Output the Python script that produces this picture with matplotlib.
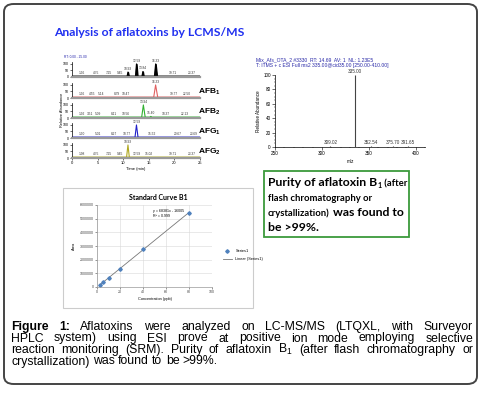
import numpy as np
import matplotlib
matplotlib.use("Agg")
import matplotlib.pyplot as plt
from matplotlib.patches import FancyBboxPatch, Rectangle

W, H = 484, 395

# ---- chromatogram traces (time min, relative abundance) ----
tic_t = [0, 10.75, 10.93, 11.1, 12.4, 12.59, 12.8, 13.65, 13.84, 14.0, 16.1, 16.33, 16.6, 25]
tic_i = [4, 4, 38, 4, 4, 100, 4, 4, 42, 4, 4, 100, 4, 4]
afb1_t = [0, 15.95, 16.33, 16.75, 25]
afb1_i = [4, 4, 100, 4, 4]
afb2_t = [0, 13.6, 13.94, 14.3, 15.2, 15.4, 15.6, 25]
afb2_i = [4, 4, 100, 4, 4, 12, 4, 4]
afg1_t = [0, 12.3, 12.59, 12.9, 25]
afg1_i = [4, 4, 100, 4, 4]
afg2_t = [0, 10.65, 10.93, 11.2, 25]
afg2_i = [4, 4, 100, 4, 4]

tic_rt = [1.96, 4.75, 7.25, 9.45, 10.93, 12.59, 13.84, 16.33, 19.71, 23.37]
afb1_rt = [1.96, 4.55, 5.14, 8.79, 10.47, 16.33, 19.77, 22.50]
afb2_rt = [1.92, 3.51, 5.09, 8.11, 10.56, 13.94, 15.40, 18.37, 22.13]
afg1_rt = [1.90, 5.01, 8.27, 10.77, 12.59, 15.52, 20.67, 23.69]
afg2_rt = [1.98, 4.75, 7.25, 9.45, 10.93, 12.59, 15.02, 19.71, 23.37]

trace_labels = ["", "AFB", "AFB", "AFG", "AFG"]
trace_subs = ["", "1", "2", "1", "2"]
time_ticks = [0, 5, 10, 15, 20, 25]

# ---- MS2 spectrum ----
mz = [309.02, 335.00, 352.54, 375.70, 391.65]
abund = [1.5, 100, 1.5, 1.2, 1.0]

# ---- standard curve ----
conc = [2.5, 5, 10, 20, 40, 80]
area = [150000, 330000, 640000, 1320000, 2780000, 5420000]
slope, intercept = 68381, -16005
r2 = 0.999

plt.rcParams['font.family'] = ['Liberation Sans', 'DejaVu Sans']
plt.rcParams['mathtext.fontset'] = 'custom'
plt.rcParams['mathtext.rm'] = 'Liberation Sans'
plt.rcParams['mathtext.bf'] = 'Liberation Sans:bold'
plt.rcParams['mathtext.default'] = 'regular'
fig = plt.figure(figsize=(W / 100, H / 100), dpi=100)
renderer = fig.canvas.get_renderer()


def box(x0, y0, x1, y1):
    return [x0 / W, 1 - y1 / H, (x1 - x0) / W, (y1 - y0) / H]


def ftext(x, y, s, **kw):
    return fig.text(x / W, 1 - y / H, s, **kw)


def text_width(s, **kw):
    t = ftext(0, 100, s, **kw)
    w = t.get_window_extent(renderer).width
    t.remove()
    return w


# outer rounded frame
frame = FancyBboxPatch((4 / W, 1 - 384 / H), 473 / W, 380 / H,
                       boxstyle="round,pad=0,rounding_size=0.02",
                       transform=fig.transFigure, fill=False,
                       edgecolor="#444444", linewidth=1.4)
fig.patches.append(frame)

ftext(54, 33, "Analysis of aflatoxins by LCMS/MS", fontsize=8.7, fontweight="bold",
      color="#2030f0", family="Lato", va="center")

# ---- chromatogram stack ----
traces = [(tic_t, tic_i, tic_rt, "black"),
          (afb1_t, afb1_i, afb1_rt, "#e06060"),
          (afb2_t, afb2_i, afb2_rt, "#30b030"),
          (afg1_t, afg1_i, afg1_rt, "#2020c8"),
          (afg2_t, afg2_i, afg2_rt, "#b0a820")]
panel_tops = [62, 83, 103, 123, 143]
for k, (t, inten, rts, col) in enumerate(traces):
    top = panel_tops[k]
    ax = fig.add_axes(box(72, top, 200, top + 15))
    ax.plot(t, inten, color=col, linewidth=0.8)
    ax.plot([0, 25], [5, 5], color=col, linewidth=1.8, alpha=0.55)
    if k == 0:
        ax.fill_between(t, 0, inten, color=col)
    ax.set_xlim(0, 25)
    ax.set_ylim(0, 115)
    for s in ["top", "right"]:
        ax.spines[s].set_visible(False)
    ax.spines["left"].set_linewidth(0.5)
    ax.spines["bottom"].set_color("#999999")
    ax.spines["bottom"].set_linewidth(1.6)
    ax.set_yticks([0, 50, 100])
    ax.set_yticklabels(["0", "50", "100"], fontsize=2.5)
    ax.tick_params(axis="y", length=1.5, width=0.4, pad=0.5)
    if k == 4:
        ax.set_xticks(time_ticks)
        ax.set_xticks(np.arange(0, 25.1, 1), minor=True)
        ax.set_xticklabels([str(v) for v in time_ticks], fontsize=3)
        ax.tick_params(axis="x", length=1.5, width=0.4, pad=1)
        ax.tick_params(axis="x", which="minor", length=1, width=0.3)
        ax.set_xlabel("Time (min)", fontsize=3, labelpad=1)
    else:
        ax.set_xticks([])
    for j, rt in enumerate(rts):
        yv = np.interp(rt, t, inten)
        ha = "center"
        if j + 1 < len(rts) and rts[j + 1] - rt < 1.2:
            ha = "right"
        elif j > 0 and rt - rts[j - 1] < 1.2:
            ha = "left"
        ax.text(rt, yv + 8, f"{rt:.2f}", fontsize=2.3, ha=ha, va="bottom",
                color="#333333")
    if trace_labels[k]:
        ftext(198, top + 9, trace_labels[k] + "$_{" + trace_subs[k] + "}$",
              fontsize=6, fontweight="bold", va="center")

ftext(62, 110, "Relative Abundance", fontsize=2.8, rotation=90, va="center", ha="center")
ftext(64, 57, "RT: 0.00 - 25.00", fontsize=2.3, color="#2222aa", va="center")

# ---- MS2 spectrum ----
ax = fig.add_axes(box(275, 75, 425, 147))
ax.vlines(mz, 0, abund, color="#444444", linewidth=0.8)
ax.set_xlim(250, 410)
ax.set_ylim(0, 100)
for s in ["top", "right"]:
    ax.spines[s].set_visible(False)
for s in ["left", "bottom"]:
    ax.spines[s].set_linewidth(0.5)
ax.set_xticks([250, 300, 350, 400])
ax.set_xticks(np.arange(250, 411, 10), minor=True)
ax.set_yticks([0, 20, 40, 60, 80, 100])
ax.set_yticks(np.arange(0, 101, 5), minor=True)
ax.tick_params(labelsize=3.3, length=2, width=0.4, pad=1)
ax.tick_params(which="minor", length=1, width=0.3)
ax.set_xlabel("m/z", fontsize=3.3, labelpad=2)
ax.set_ylabel("Relative Abundance", fontsize=3.3, labelpad=2)
for m, a in zip(mz, abund):
    ax.text(m, a + 1.5, f"{m:.2f}", fontsize=3.3, ha="center", va="bottom",
            color="#333333", clip_on=False)
ftext(256, 60, "Mix_Afs_OTA_2 #3330  RT: 14.69  AV: 1  NL: 1.23E5", fontsize=3.6,
      color="#2a2aa8", va="center")
ftext(256, 66, "T: ITMS + c ESI Full ms2 335.00@cid35.00 [250.00-410.00]", fontsize=3.6,
      color="#2a2aa8", va="center")

# ---- standard curve ----
fig.patches.append(Rectangle((63 / W, 1 - 308 / H), 190 / W, 120 / H,
                             transform=fig.transFigure, fill=False,
                             edgecolor="#cccccc", linewidth=0.8))
ftext(158, 198, "Standard Curve B1", fontsize=5, fontweight="bold", family="Lato",
      ha="center", va="center")
ax = fig.add_axes(box(97, 205, 212, 287))
xx = np.array([conc[0], conc[-1]])
ax.plot(xx, slope * xx + intercept, color="#777777", linewidth=0.6, label="Linear (Series1)")
ax.plot(conc, area, "D", color="#4f81bd", markersize=1.8, label="Series1")
ax.set_xlim(0, 100)
ax.set_ylim(0, 6000000)
ax.set_xticks(range(0, 101, 20))
ax.set_yticks(range(0, 6000001, 1000000))
ax.set_yticklabels([str(v) for v in range(0, 6000001, 1000000)])
ax.grid(True, color="#d8d8d8", linewidth=0.4)
ax.set_axisbelow(True)
for s in ["top", "right"]:
    ax.spines[s].set_visible(False)
for s in ["left", "bottom"]:
    ax.spines[s].set_color("#999999")
    ax.spines[s].set_linewidth(0.5)
ax.tick_params(labelsize=2.6, length=1.2, width=0.4, pad=1, colors="#444444")
ax.set_xlabel("Concentration (ppb)", fontsize=2.8, labelpad=2)
ax.set_ylabel("Area", fontsize=2.8, labelpad=3)
ax.text(0.49, 0.90, f"y = {slope}x - {-intercept}\nR² = {r2}", transform=ax.transAxes,
        fontsize=2.6, va="center", linespacing=1.3)
leg = fig.legend(*[list(reversed(v)) for v in ax.get_legend_handles_labels()],
                 loc="center left", bbox_to_anchor=(219 / W, 1 - 255 / H),
                 fontsize=2.8, frameon=False, handlelength=2.5, labelspacing=1.0)

# ---- purity box ----
fig.patches.append(Rectangle((264 / W, 1 - 237 / H), 145 / W, 66 / H,
                             transform=fig.transFigure, fill=False,
                             edgecolor="#3c9a3c", linewidth=1.3))


def place_runs(x, y, runs, family="Lato", color="black"):
    for s, size, dy in runs:
        t = ftext(x, y + dy, s, fontsize=size, fontweight="bold", family=family,
                  va="baseline", color=color)
        x += t.get_window_extent(renderer).width


big, small = 8.8, 6.8
place_runs(268, 186, [("Purity of aflatoxin B", big, 0), ("1", 5.2, 1.5), (" (after", small, 0)])
place_runs(268, 201, [("flash chromatography or", small, 0)])
place_runs(268, 216, [("crystallization)", small, 0), (" was found to", big, 0)])
place_runs(268, 231, [("be >99%.", big, 0)])

# ---- caption ----
cap_lines = [
    "Figure 1: Aflatoxins were analyzed on LC-MS/MS (LTQXL, with Surveyor",
    "HPLC system) using ESI prove at positive ion mode employing selective",
    "reaction monitoring (SRM). Purity of aflatoxin B$_1$ (after flash chromatography or",
    "crystallization) was found to be >99%.",
]
cap_size = 8.8
cap_x0, cap_x1 = 11, 473
cap_y = [330, 341.5, 353, 364.5]
space_w = text_width("a b", fontsize=cap_size) - text_width("ab", fontsize=cap_size)
for n, line in enumerate(cap_lines):
    words = line.split(" ")
    texts = []
    for j, wd in enumerate(words):
        bold = (n == 0 and j < 2)
        texts.append(ftext(0, cap_y[n], wd, fontsize=cap_size,
                           fontweight="bold" if bold else "normal", va="baseline"))
    widths = [tt.get_window_extent(renderer).width for tt in texts]
    if n < len(cap_lines) - 1:
        gap = (cap_x1 - cap_x0 - sum(widths)) / (len(words) - 1)
    else:
        gap = space_w
    x = cap_x0
    for tt, wdt in zip(texts, widths):
        tt.set_x(x / W)
        x += wdt + gap

fig.savefig("out.png", dpi=100)
